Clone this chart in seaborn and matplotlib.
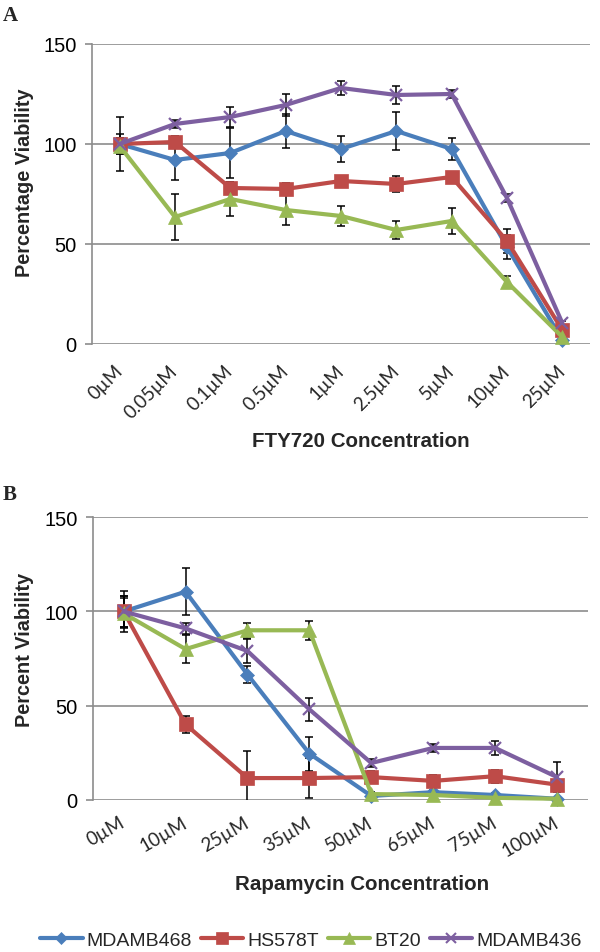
import matplotlib
matplotlib.use("Agg")
import matplotlib.pyplot as plt
from matplotlib.lines import Line2D
import seaborn as sns
import pandas as pd

# ---------------- data ----------------
series = ["MDAMB468", "HS578T", "BT20", "MDAMB436"]

fty_conc = ["0µM", "0.05µM", "0.1µM", "0.5µM", "1µM", "2.5µM", "5µM", "10µM", "25µM"]
fty_mdamb468 = [100, 92, 95.5, 106.5, 97.5, 106.5, 97.5, 48.5, 2]
fty_hs578t = [100, 101, 78, 77.5, 81.5, 80, 83.5, 51.5, 7]
fty_bt20 = [99, 63.5, 72.5, 67, 64, 57, 61.5, 31, 3.5]
fty_mdamb436 = [100, 110, 113.5, 119.5, 128, 124.5, 125, 73, 10.5]
fty_err_mdamb468 = [13.5, 10, 12.5, 8.5, 6.5, 9.5, 5.5, 6, 1]
fty_err_hs578t = [5, 3, 3, 3, 2, 4, 2, 6, 1]
fty_err_bt20 = [4, 11.5, 8.5, 7.5, 5, 4.5, 6.5, 3, 1]
fty_err_mdamb436 = [3, 2, 5, 5.5, 3.5, 4.5, 2, 2, 1]

rap_conc = ["0µM", "10µM", "25µM", "35µM", "50µM", "65µM", "75µM", "100µM"]
rap_mdamb468 = [100, 110.5, 66.5, 24.5, 2, 4, 2.5, 0.5]
rap_hs578t = [100, 40, 11.5, 11.5, 12, 10, 12.5, 8]
rap_bt20 = [99, 80, 90, 90, 3, 2.5, 1, 0.5]
rap_mdamb436 = [100, 91, 79, 48, 19.5, 27.5, 27.5, 12]
rap_err_mdamb468 = [11, 12.5, 4.5, 9, 1, 1, 1, 0.5]
rap_err_hs578t = [8, 4.5, 14.5, 10.5, 3, 3, 3.5, 2]
rap_err_bt20 = [8, 7.5, 4, 5, 1, 1, 1, 0.5]
rap_err_mdamb436 = [8, 3, 6.5, 6, 2, 2, 3.5, 8]

colors = {"MDAMB468": "#4A7EBB", "HS578T": "#BE4B48", "BT20": "#98B954", "MDAMB436": "#7D5FA0"}
markers = {"MDAMB468": "D", "HS578T": "s", "BT20": "^", "MDAMB436": "x"}
msizes = {"MDAMB468": 7.5, "HS578T": 10, "BT20": 10.5, "MDAMB436": 9}

sans = "Liberation Sans"
grid_c = "#8C8C8C"


def make_df(conc, vals, errs):
    rows = []
    for s, v, e in zip(series, vals, errs):
        for c, vv, ee in zip(conc, v, e):
            rows.append({"conc": c, "value": vv, "err": ee, "series": s})
    return pd.DataFrame(rows)


df_a = make_df(fty_conc, [fty_mdamb468, fty_hs578t, fty_bt20, fty_mdamb436],
               [fty_err_mdamb468, fty_err_hs578t, fty_err_bt20, fty_err_mdamb436])
df_b = make_df(rap_conc, [rap_mdamb468, rap_hs578t, rap_bt20, rap_mdamb436],
               [rap_err_mdamb468, rap_err_hs578t, rap_err_bt20, rap_err_mdamb436])

sns.set_theme(style="white")
plt.rcParams["font.family"] = [sans, "DejaVu Sans"]

fig = plt.figure(figsize=(6, 9.53), dpi=100)
ax_a = fig.add_axes([0.1533, 0.638, 0.830, 0.3148])
ax_b = fig.add_axes([0.1545, 0.1598, 0.8255, 0.2963])


def draw(ax, df, conc, rot, xlabel, ylabel, xlab_xy, ylab_xy, pad):
    for s in series:
        d = df[df["series"] == s]
        ax.errorbar(d["conc"], d["value"], yerr=d["err"], fmt="none", ecolor="black",
                    elinewidth=1.1, capsize=3.2, capthick=1.1, zorder=2)
    for s in series:
        d = df[df["series"] == s]
        sns.lineplot(data=d, x="conc", y="value", ax=ax, color=colors[s],
                     marker=markers[s], markersize=msizes[s], linewidth=3,
                     markeredgecolor=colors[s],
                     markeredgewidth=1.6 if s == "MDAMB436" else 0.5,
                     label=s, legend=False, zorder=3, clip_on=False, sort=False)
    ax.set_ylim(0, 150)
    ax.set_yticks([0, 50, 100, 150])
    ax.set_xlim(-0.5, len(conc) - 0.5)
    ax.grid(axis="y", color=grid_c, linewidth=1.2)
    ax.grid(axis="x", visible=False)
    for sp in ["top", "right", "bottom"]:
        ax.spines[sp].set_visible(False)
    ax.spines["left"].set_color(grid_c)
    ax.spines["left"].set_linewidth(1.2)
    ax.tick_params(axis="y", left=True, length=5, width=1.2, color=grid_c,
                   labelsize=14.5, pad=6, labelcolor="black")
    ax.tick_params(axis="x", bottom=False, length=0, pad=pad)
    ax.set_xticks(range(len(conc)))
    ax.set_xticklabels(conc)
    for lab in ax.get_xticklabels():
        lab.set(rotation=rot, ha="right", va="center", rotation_mode="anchor",
                fontfamily=["Lato", "DejaVu Sans"], fontsize=13.5)
    for lab in ax.get_yticklabels():
        lab.set_fontfamily(sans)
    ax.set_xlabel(xlabel, fontsize=14.8, fontweight="bold", fontfamily=sans)
    ax.xaxis.set_label_coords(*xlab_xy)
    ax.xaxis.label.set_va("center")
    ax.set_ylabel(ylabel, fontsize=14.3, fontweight="bold", fontfamily=sans)
    ax.yaxis.set_label_coords(*ylab_xy)
    ax.yaxis.label.set_va("center")


draw(ax_a, df_a, fty_conc, 45, "FTY720 Concentration", "Percentage Viability",
     (0.540, -0.323), (-0.1345, 0.54), 17)
draw(ax_b, df_b, rap_conc, 30, "Rapamycin Concentration", "Percent Viability",
     (0.544, -0.295), (-0.137, 0.534), 15)

fig.text(0.004, 1 - 6 / 953, "A", fontsize=15, fontweight="bold",
         fontfamily="Liberation Serif", ha="left", va="top")
fig.text(0.004, 1 - 485 / 953, "B", fontsize=15, fontweight="bold",
         fontfamily="Liberation Serif", ha="left", va="top")

handles = [Line2D([], [], color=colors[s], marker=markers[s], linewidth=3,
                  markersize=msizes[s] * 0.8, markeredgecolor=colors[s],
                  markeredgewidth=1.5 if s == "MDAMB436" else 0.5) for s in series]
fig.legend(handles, series, loc="center", bbox_to_anchor=(0.518, 0.0125), ncol=4,
           frameon=False, handlelength=2.2, handletextpad=0.2,
           columnspacing=0.45, borderpad=0, borderaxespad=0,
           prop={"family": sans, "size": 14})

fig.savefig("out.png", dpi=100)
